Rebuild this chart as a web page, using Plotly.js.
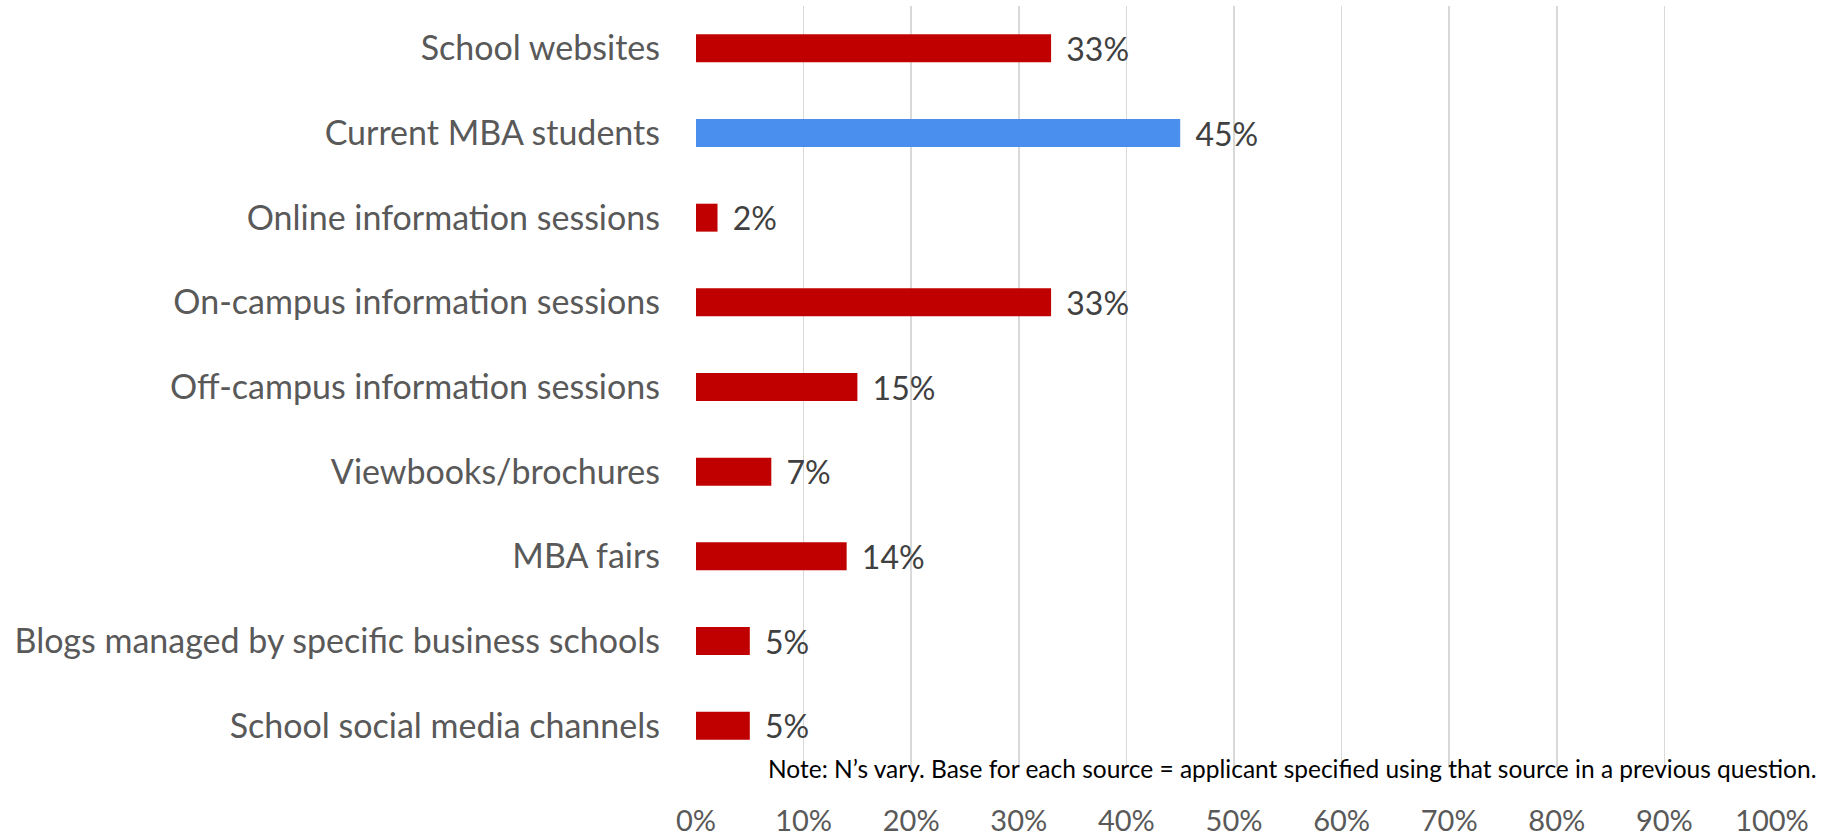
<!DOCTYPE html>
<html>
<head>
<meta charset="utf-8">
<script src="https://cdn.plot.ly/plotly-3.0.1.min.js"></script>
<style>html,body{margin:0;padding:0;background:#fff;}#chart{width:1825px;height:836px;}</style>
</head>
<body>
<div id="chart"></div>
<script>
const categories = [
  "School websites",
  "Current MBA students",
  "Online information sessions",
  "On-campus information sessions",
  "Off-campus information sessions",
  "Viewbooks/brochures",
  "MBA fairs",
  "Blogs managed by specific business schools",
  "School social media channels"
];
const values = [33, 45, 2, 33, 15, 7, 14, 5, 5];
const highlighted = [false, true, false, false, false, false, false, false, false];
const xTickValues = [0, 10, 20, 30, 40, 50, 60, 70, 80, 90, 100];
const xTickLabels = ["0%", "10%", "20%", "30%", "40%", "50%", "60%", "70%", "80%", "90%", "100%"];
const noteText = "Note: N\u2019s vary. Base for each source = applicant specified using that source in a previous question.";

const RED = "#C00000", BLUE = "#4A8EEE";
const FONT = "Lato, 'Open Sans', sans-serif";

const trace = {
  type: "bar",
  orientation: "h",
  x: values,
  y: categories,
  marker: { color: highlighted.map(h => h ? BLUE : RED) },
  text: values.map(v => "\u00a0\u2009" + v + "%"),
  textposition: "outside",
  constraintext: "none",
  cliponaxis: false,
  textfont: { family: FONT, size: 32, color: "#404040" },
  hoverinfo: "none"
};

const layout = {
  width: 1825, height: 836,
  margin: { l: 696, r: 53, t: 6, b: 68 },
  paper_bgcolor: "#ffffff",
  plot_bgcolor: "#ffffff",
  showlegend: false,
  bargap: 0.67,
  font: { family: FONT, color: "#595959" },
  xaxis: {
    range: [0, 100],
    tickvals: xTickValues,
    ticktext: xTickLabels,
    showgrid: true,
    gridcolor: "#D9D9D9",
    gridwidth: 1.5,
    zeroline: false,
    showline: false,
    ticks: "",
    ticklabelstandoff: 33,
    tickfont: { family: FONT, size: 29, color: "#595959" },
    fixedrange: true
  },
  yaxis: {
    type: "category",
    autorange: "reversed",
    showgrid: false,
    zeroline: false,
    showline: false,
    ticks: "",
    ticklabelstandoff: 35,
    tickfont: { family: FONT, size: 34, color: "#595959" },
    fixedrange: true
  },
  annotations: [{
    xref: "paper", yref: "paper",
    x: 1.0428, y: 0,
    xanchor: "right", yanchor: "middle",
    text: noteText,
    showarrow: false,
    font: { family: FONT, size: 24.5, color: "#000000" }
  }]
};

Plotly.newPlot("chart", [trace], layout, { displayModeBar: false, staticPlot: true });
</script>
</body>
</html>
